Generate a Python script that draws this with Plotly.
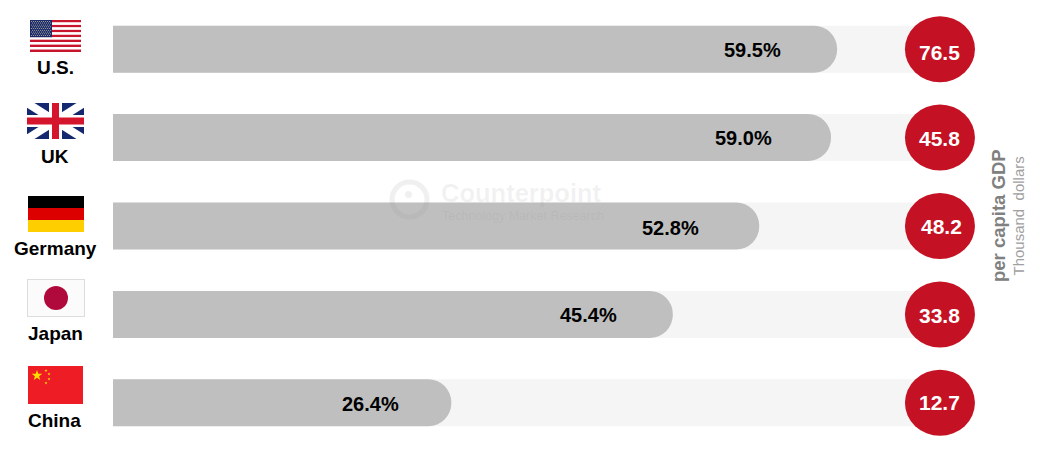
import base64
import math
import plotly.graph_objects as go

countries = ["U.S.", "UK", "Germany", "Japan", "China"]
share_pct = [59.5, 59.0, 52.8, 45.4, 26.4]
# Bar lengths as drawn in the picture (the source chart is not strictly proportional)
bar_length = [59.5, 59.0, 53.1, 46.0, 27.8]
gdp_per_capita = [76.5, 45.8, 48.2, 33.8, 12.7]
track_length = 66.5
circle_pos = 67.95

W, H = 1039, 452
ML, MR, MT, MB = 113, 0, 5, 5
PX_PER_UNIT = 12.17
PW, PH = W - ML - MR, H - MT - MB


def px(x):
    return (x - ML) / PW


def py(y):
    return 1 - (y - MT) / PH


def uri(svg):
    return "data:image/svg+xml;base64," + base64.b64encode(svg.encode()).decode()


def star(cx, cy, r, fill):
    pts = []
    for i in range(10):
        a = -math.pi / 2 + i * math.pi / 5
        rr = r if i % 2 == 0 else r * 0.4
        pts.append(f"{cx + rr * math.cos(a):.2f},{cy + rr * math.sin(a):.2f}")
    return f'<polygon points="{" ".join(pts)}" fill="{fill}"/>'


us_stripes = "".join(
    f'<rect x="0" y="{i * 32 / 13:.2f}" width="51" height="{32 / 13:.2f}" fill="{"#c8142c" if i % 2 == 0 else "#ffffff"}"/>'
    for i in range(13)
)
us_stars = "".join(
    f'<circle cx="{1.6 + c * 2.0 + (r % 2):.1f}" cy="{1.4 + r * 1.75:.1f}" r="0.5" fill="#c9c7a8"/>'
    for r in range(9) for c in range(10)
)
flag_us = (
    '<svg xmlns="http://www.w3.org/2000/svg" width="51" height="32" viewBox="0 0 51 32">'
    + us_stripes + '<rect width="22" height="17.2" fill="#1b2a6b"/>' + us_stars + "</svg>"
)
flag_uk = (
    '<svg xmlns="http://www.w3.org/2000/svg" width="57" height="36" viewBox="0 0 57 36">'
    '<rect width="57" height="36" fill="#14286f"/>'
    '<path d="M0 0L57 36M57 0L0 36" stroke="#ffffff" stroke-width="8"/>'
    '<rect x="22" width="13" height="36" fill="#ffffff"/><rect y="12" width="57" height="12" fill="#ffffff"/>'
    '<rect x="25" width="7" height="36" fill="#d5152c"/><rect y="14.5" width="57" height="7" fill="#d5152c"/>'
    "</svg>"
)
flag_de = (
    '<svg xmlns="http://www.w3.org/2000/svg" width="56" height="36" viewBox="0 0 56 36">'
    '<rect width="56" height="12" fill="#000000"/>'
    '<rect y="12" width="56" height="12" fill="#dd0000"/>'
    '<rect y="24" width="56" height="12" fill="#ffce00"/></svg>'
)
flag_jp = (
    '<svg xmlns="http://www.w3.org/2000/svg" width="58" height="38" viewBox="0 0 58 38">'
    '<rect x="0.5" y="0.5" width="57" height="37" fill="#fbfbfb" stroke="#dddddd"/>'
    '<circle cx="29" cy="19" r="12" fill="#b00a3c"/></svg>'
)
flag_cn = (
    '<svg xmlns="http://www.w3.org/2000/svg" width="55" height="38" viewBox="0 0 55 38">'
    '<rect width="55" height="38" fill="#ee1c25"/>'
    + star(9, 9.5, 5.5, "#ffde00") + star(18, 4.5, 1.6, "#ffde00") + star(21, 8, 1.6, "#ffde00")
    + star(21, 13, 1.6, "#ffde00") + star(18, 17, 1.6, "#ffde00") + "</svg>"
)

flags = [
    (flag_us, 30, 20, 51, 32),
    (flag_uk, 27, 103, 57, 36),
    (flag_de, 28, 196, 56, 36),
    (flag_jp, 27, 279, 58, 38),
    (flag_cn, 28, 366, 55, 38),
]
country_label_y = [68, 156, 248, 333, 420]
country_label_x = [55, 55, 55, 55, 54]
pct_xshift = [-85, -88, -89, -84, -81]
pct_yshift = [-1, 0, -2, -1, -1]
gdp_xshift = [0, 0, 2, 0, 0]
gdp_yshift = [-3, -1, 0, -1, 0]

BASE = -3  # starts left of the axis so the left corners are clipped and stay square

fig = go.Figure()
fig.add_bar(
    y=countries, x=[track_length - BASE] * 5, base=BASE, orientation="h",
    marker=dict(color="#f5f5f5", line_width=0), hoverinfo="skip", showlegend=False,
)
fig.add_bar(
    y=countries, x=[v - BASE for v in bar_length], base=BASE, orientation="h",
    marker=dict(color="#bfbfbf", line_width=0, cornerradius=23), showlegend=False,
)

shapes = []
annotations = []
for i, c in enumerate(countries):
    shapes.append(dict(
        type="circle", xref="x", yref="y", xsizemode="pixel", ysizemode="pixel",
        xanchor=circle_pos, yanchor=i, x0=-35, x1=35, y0=-33, y1=33,
        fillcolor="#c41224", line_width=0, layer="above",
    ))
    annotations.append(dict(
        x=bar_length[i], y=c, xref="x", yref="y", text=f"<b>{share_pct[i]:.1f}%</b>",
        showarrow=False, xshift=pct_xshift[i], yshift=pct_yshift[i],
        font=dict(family="Liberation Sans", size=20, color="#000000"),
    ))
    annotations.append(dict(
        x=circle_pos, y=c, xref="x", yref="y", text=f"<b>{gdp_per_capita[i]:.1f}</b>",
        showarrow=False, xshift=gdp_xshift[i], yshift=gdp_yshift[i],
        font=dict(family="Liberation Sans", size=21, color="#ffffff"),
    ))
    annotations.append(dict(
        x=px(country_label_x[i]), y=py(country_label_y[i]), xref="paper", yref="paper",
        xanchor="center", yanchor="middle",
        text=f"<b>{c}</b>", showarrow=False,
        font=dict(family="Liberation Sans", size=19, color="#000000"),
    ))

annotations.append(dict(
    x=px(998), y=py(216), xref="paper", yref="paper", xanchor="center", yanchor="middle",
    text="<b>per capita GDP</b>",
    textangle=-90, showarrow=False, font=dict(family="Liberation Sans", size=18.5, color="#808080"),
))
annotations.append(dict(
    x=px(1017.5), y=py(216), xref="paper", yref="paper", xanchor="center", yanchor="middle",
    text="Thousand  dollars",
    textangle=-90, showarrow=False, font=dict(family="Liberation Sans", size=15, color="#a0a0a0"),
))
annotations.append(dict(
    x=px(439), y=py(193), xref="paper", yref="paper", xanchor="left", yanchor="middle",
    text="<b>Counterpoint</b>",
    showarrow=False, font=dict(family="Liberation Sans", size=25.5, color="rgba(150,150,150,0.12)"),
))
annotations.append(dict(
    x=px(440), y=py(215.5), xref="paper", yref="paper", xanchor="left", yanchor="middle",
    text="Technology Market Research", showarrow=False,
    font=dict(family="Liberation Sans", size=12.5, color="rgba(150,150,150,0.16)"),
))
shapes.append(dict(
    type="circle", xref="paper", yref="paper", layer="above",
    x0=px(392), x1=px(427), y0=py(217), y1=py(182),
    line=dict(color="rgba(150,150,150,0.14)", width=5),
))
shapes.append(dict(
    type="circle", xref="paper", yref="paper", layer="above",
    x0=px(405), x1=px(412), y0=py(198), y1=py(191),
    fillcolor="rgba(150,150,150,0.14)", line_width=0,
))

images = [
    dict(source=uri(svg), xref="paper", yref="paper", x=px(x), y=py(y),
         sizex=w / PW, sizey=h / PH, xanchor="left", yanchor="top", sizing="stretch", layer="above")
    for svg, x, y, w, h in flags
]

fig.update_layout(
    width=W, height=H, autosize=False,
    margin=dict(l=ML, r=MR, t=MT, b=MB, pad=0),
    paper_bgcolor="#ffffff", plot_bgcolor="#ffffff",
    barmode="overlay", bargap=0.468, showlegend=False,
    xaxis=dict(range=[0, PW / PX_PER_UNIT], visible=False, fixedrange=True),
    yaxis=dict(categoryorder="array", categoryarray=countries, autorange="reversed",
               visible=False, fixedrange=True),
    shapes=shapes, annotations=annotations, images=images,
)
fig.write_html("out.html", config={"displayModeBar": False},
               post_script="document.body.style.margin='0';document.body.style.overflow='hidden';")
